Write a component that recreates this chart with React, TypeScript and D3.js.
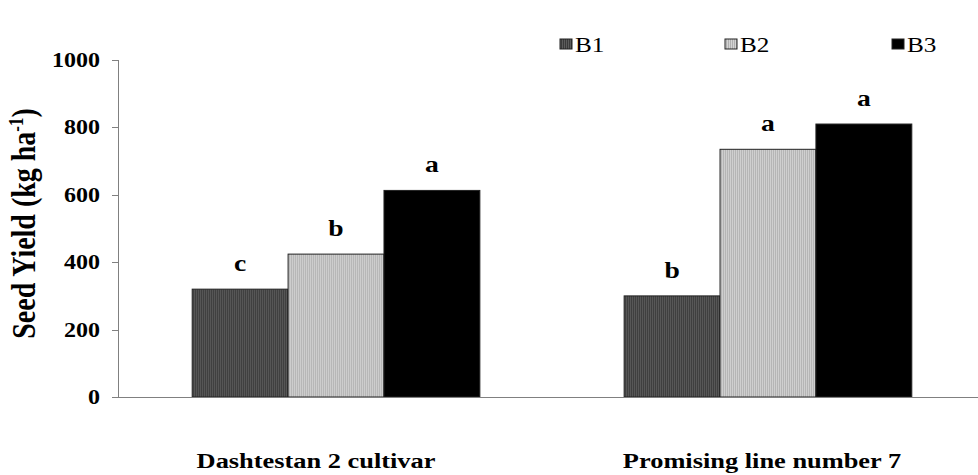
import React from 'react';
import * as d3 from 'd3';

const categories = ['Dashtestan 2 cultivar', 'Promising line number 7'];
const series = ['B1', 'B2', 'B3'];
const b1 = [320, 300];
const b2 = [424, 735];
const b3 = [613, 810];
const letters = [
  ['c', 'b', 'a'],
  ['b', 'a', 'a'],
];
const yTicks = [0, 200, 400, 600, 800, 1000];

const W = 978;
const H = 475;
const FONT = '"Liberation Serif", "Times New Roman", serif';
const SX = 1.2; // the original chart is a bit stretched sideways

const App = () => {
  const values = [b1, b2, b3];
  const y = d3.scaleLinear().domain([0, 1000]).range([397, 60]);
  const x0 = d3
    .scaleBand()
    .domain(categories)
    .range([122, 982])
    .paddingInner(0.334)
    .paddingOuter(0.1625);
  const x1 = d3.scaleBand().domain(series).range([0, x0.bandwidth()]);
  const fills = ['url(#patB1)', 'url(#patB2)', '#000'];
  const legendX = [560, 725, 892];
  const labelShift = [-20, -6];

  return (
    <svg width={W} height={H} style={{ position: 'absolute', left: 0, top: 0, background: '#fff' }}>
      <defs>
        <pattern id="patB1" width="2" height="2" patternUnits="userSpaceOnUse">
          <rect width="2" height="2" fill="#3a3a3a" />
          <rect width="1" height="2" fill="#5c5c5c" />
        </pattern>
        <pattern id="patB2" width="2" height="2" patternUnits="userSpaceOnUse">
          <rect width="2" height="2" fill="#b0b0b0" />
          <rect width="1" height="2" fill="#d4d4d4" />
        </pattern>
      </defs>

      {/* y axis */}
      <line x1={118.5} x2={118.5} y1={y(1000)} y2={y(0)} stroke="#808080" />
      {yTicks.map((t) => (
        <g key={t}>
          <line x1={112} x2={118.5} y1={Math.round(y(t)) + 0.5} y2={Math.round(y(t)) + 0.5} stroke="#808080" />
          <text
            transform={`translate(100, ${y(t)}) scale(${SX},1)`}
            dy="0.35em"
            textAnchor="end"
            fontFamily={FONT}
            fontWeight="bold"
            fontSize={20}
          >
            {t}
          </text>
        </g>
      ))}
      <text
        transform={`translate(35, ${y(515)}) scale(${SX},1) rotate(-90)`}
        textAnchor="middle"
        fontFamily={FONT}
        fontWeight="bold"
        fontSize={28}
      >
        Seed Yield (kg ha<tspan dy="-10" fontSize={17}>-1</tspan>
        <tspan dy="10">)</tspan>
      </text>

      {/* bars */}
      {categories.map((c, ci) => (
        <g key={c} transform={`translate(${x0(c)},0)`}>
          {series.map((s, si) => {
            const v = values[si][ci];
            return (
              <g key={s}>
                <rect
                  x={x1(s)}
                  y={y(v)}
                  width={x1.bandwidth()}
                  height={y(0) - y(v)}
                  fill={fills[si]}
                  stroke="#222"
                  strokeWidth={1}
                />
                <text
                  transform={`translate(${(x1(s) ?? 0) + x1.bandwidth() / 2}, ${y(v) - 18}) scale(${SX},1)`}
                  textAnchor="middle"
                  fontFamily={FONT}
                  fontWeight="bold"
                  fontSize={23}
                >
                  {letters[ci][si]}
                </text>
              </g>
            );
          })}
          <text
            transform={`translate(${x0.bandwidth() / 2 + labelShift[ci]}, 468) scale(${SX},1)`}
            textAnchor="middle"
            fontFamily={FONT}
            fontWeight="bold"
            fontSize={22}
          >
            {c}
          </text>
        </g>
      ))}

      {/* x axis line */}
      <line x1={118} x2={978} y1={397.5} y2={397.5} stroke="#808080" />

      {/* legend */}
      {series.map((s, i) => (
        <g key={s} transform={`translate(${legendX[i]},39)`}>
          <rect x={0} y={0} width={12} height={10} fill={fills[i]} stroke="#222" />
          <text transform={`translate(15, 13) scale(${SX},1)`} fontFamily={FONT} fontSize={21}>
            {s}
          </text>
        </g>
      ))}
    </svg>
  );
};

export default App;
